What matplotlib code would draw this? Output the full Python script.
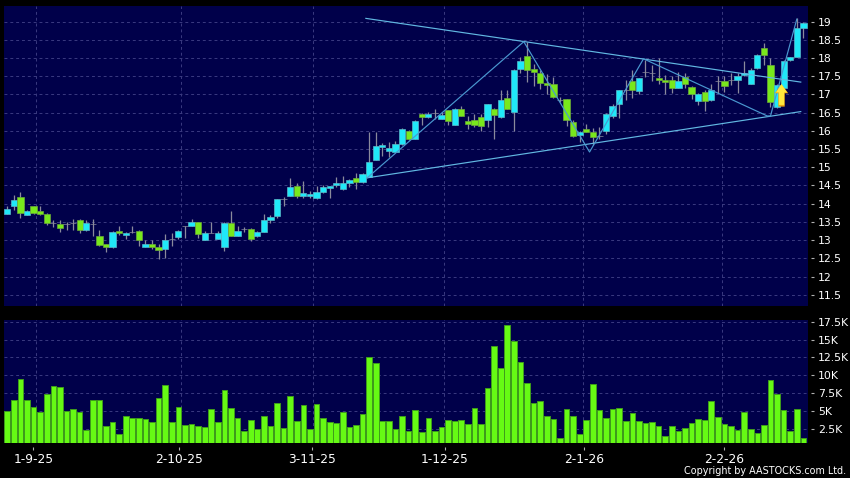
import matplotlib
matplotlib.use('Agg')
import matplotlib.pyplot as plt
from matplotlib.path import Path
import numpy as np

# daily candles, one value per session
opens = [13.72, 13.94, 14.18, 13.70, 13.94, 13.81, 13.72, 13.46, 13.44, 13.43, 13.46, 13.56, 13.28, 13.44, 13.11, 12.90,
         12.81, 13.25, 13.14, 13.22, 13.25, 12.82, 12.89, 12.81, 12.76, 13.03, 13.09, 13.39, 13.39, 13.50, 13.01, 13.20,
         13.04, 12.82, 13.47, 13.12, 13.30, 13.30, 13.12, 13.23, 13.56, 13.67, 14.13, 14.22, 14.48, 14.22, 14.20, 14.16,
         14.33, 14.42, 14.50, 14.41, 14.57, 14.70, 14.60, 14.73, 15.21, 15.56, 15.46, 15.43, 15.63, 16.00, 15.78, 16.46,
         16.39, 16.48, 16.33, 16.58, 16.17, 16.60, 16.27, 16.31, 16.38, 16.31, 16.61, 16.38, 16.90, 16.53, 17.70, 18.07,
         17.71, 17.60, 17.32, 17.28, 16.86, 16.88, 16.25, 15.88, 16.06, 15.97, 15.85, 16.00, 16.41, 16.73, 17.11, 17.37,
         17.10, 17.62, 17.59, 17.46, 17.40, 17.40, 17.19, 17.49, 17.21, 16.81, 17.07, 16.85, 17.37, 17.37, 17.40, 17.39,
         17.53, 17.30, 17.72, 18.29, 17.82, 16.65, 17.18, 17.94, 18.04, 18.82]
highs = [13.95, 14.23, 14.31, 13.84, 13.95, 13.93, 13.74, 13.56, 13.54, 13.50, 13.59, 13.57, 13.54, 13.57, 13.29, 12.90,
         13.25, 13.39, 13.22, 13.38, 13.27, 13.01, 13.01, 12.88, 13.17, 13.20, 13.28, 13.40, 13.59, 13.50, 13.24, 13.50,
         13.24, 13.50, 13.79, 13.40, 13.37, 13.34, 13.25, 13.71, 13.69, 14.14, 14.19, 14.71, 14.57, 14.61, 14.34, 14.48,
         14.52, 14.49, 14.73, 14.75, 14.68, 14.85, 14.84, 15.96, 15.96, 15.66, 15.69, 15.73, 16.09, 16.03, 16.31, 16.48,
         16.52, 16.61, 16.52, 16.58, 16.64, 16.69, 16.40, 16.45, 16.45, 16.75, 16.64, 17.13, 17.13, 17.71, 18.03, 18.44,
         17.85, 17.66, 17.57, 17.49, 16.94, 16.88, 16.29, 15.99, 16.18, 16.08, 16.11, 16.48, 16.73, 17.13, 17.40, 17.67,
         17.44, 17.95, 17.81, 18.01, 17.53, 17.51, 17.61, 17.58, 17.24, 17.03, 17.12, 17.30, 17.51, 17.51, 17.58, 17.58,
         17.92, 17.72, 18.10, 18.41, 17.99, 17.28, 17.95, 18.04, 19.09, 18.98]
lows = [13.71, 13.82, 13.61, 13.68, 13.72, 13.69, 13.41, 13.36, 13.22, 13.28, 13.29, 13.19, 13.25, 13.11, 12.84, 12.67,
        12.79, 13.13, 13.04, 13.20, 12.84, 12.81, 12.75, 12.49, 12.50, 12.85, 13.02, 13.06, 13.38, 13.06, 12.99, 13.19,
        13.02, 12.70, 13.10, 13.10, 13.21, 12.97, 13.09, 13.22, 13.47, 13.61, 13.95, 14.20, 14.15, 14.15, 14.15, 14.14,
        14.30, 14.17, 14.47, 14.38, 14.45, 14.41, 14.58, 14.72, 15.20, 15.30, 15.28, 15.41, 15.60, 15.76, 15.77, 16.15,
        16.36, 16.33, 16.32, 16.15, 16.15, 16.40, 16.05, 16.10, 15.99, 16.12, 15.77, 16.36, 16.59, 16.01, 17.59, 17.34,
        17.23, 17.15, 17.02, 16.89, 16.80, 16.14, 15.84, 15.70, 15.96, 15.61, 15.77, 15.91, 16.36, 16.36, 16.85, 16.89,
        17.00, 17.49, 17.37, 17.29, 17.00, 17.05, 17.17, 17.18, 16.87, 16.71, 16.54, 16.83, 17.03, 17.06, 17.26, 17.05,
        17.51, 17.28, 17.70, 17.81, 16.66, 16.63, 17.17, 17.92, 18.02, 18.56]
closes = [13.86, 14.11, 13.75, 13.80, 13.75, 13.72, 13.48, 13.46, 13.34, 13.43, 13.46, 13.28, 13.48, 13.44, 12.87, 12.81,
          13.22, 13.20, 13.20, 13.22, 13.00, 12.89, 12.82, 12.73, 13.00, 13.03, 13.25, 13.39, 13.50, 13.17, 13.19, 13.20,
          13.19, 13.47, 13.12, 13.25, 13.30, 13.04, 13.22, 13.56, 13.63, 14.13, 14.13, 14.45, 14.22, 14.29, 14.26, 14.33,
          14.46, 14.49, 14.56, 14.56, 14.66, 14.59, 14.81, 15.15, 15.58, 15.62, 15.54, 15.64, 16.06, 15.77, 16.28, 16.39,
          16.46, 16.48, 16.44, 16.27, 16.60, 16.42, 16.19, 16.16, 16.13, 16.74, 16.43, 16.85, 16.61, 17.68, 17.93, 17.67,
          17.62, 17.32, 17.27, 16.92, 16.86, 16.29, 15.86, 15.97, 15.98, 15.84, 15.85, 16.45, 16.69, 17.13, 17.11, 17.12,
          17.44, 17.62, 17.59, 17.41, 17.33, 17.19, 17.37, 17.28, 17.00, 17.00, 16.81, 17.12, 17.37, 17.22, 17.40, 17.51,
          17.60, 17.68, 18.09, 18.09, 16.80, 17.26, 17.93, 18.04, 18.82, 18.95]

# volume in thousands
volumes = [5.03, 6.5, 9.44, 6.5, 5.5, 4.8, 7.3, 8.45, 8.3, 4.9, 5.3, 4.85, 2.27, 6.5, 6.5, 2.8, 3.35, 1.8, 4.2, 4.05,
           4.0, 3.77, 3.35, 6.8, 8.55, 3.4, 5.55, 3.0, 3.1, 2.9, 2.75, 5.27, 3.35, 7.85, 5.45, 4.0, 2.2, 3.67, 2.4, 4.3,
           2.9, 6.1, 2.6, 7.1, 3.6, 5.8, 2.5, 6.0, 3.95, 3.45, 3.3, 4.8, 2.75, 3.05, 4.5, 12.5, 11.65, 3.6, 3.5, 2.45,
           4.25, 2.15, 5.05, 2.05, 3.95, 2.15, 2.75, 3.65, 3.5, 3.75, 3.2, 5.4, 3.1, 8.15, 14.1, 11.0, 17.0, 14.8, 11.8,
           8.9, 6.15, 6.3, 4.3, 3.85, 1.15, 5.3, 4.3, 1.8, 3.7, 8.75, 5.1, 3.95, 5.2, 5.45, 3.6, 4.75, 3.5, 3.25, 3.35,
           2.8, 1.45, 2.85, 2.2, 2.55, 3.25, 3.9, 3.7, 6.35, 4.1, 3.1, 2.8, 2.25, 4.8, 2.45, 1.9, 3.05, 9.3, 7.4, 5.1,
           2.1, 5.25, 1.15]

# drawn lines, as session number / price
upper_x = [54.5, 120.6]
upper_y = [19.09, 17.34]
lower_x = [54.7, 120.6]
lower_y = [14.71, 16.53]
zigzag_x = [54.7, 78.5, 88.5, 96.7, 115.5, 116.0, 120.0]
zigzag_y = [14.71, 18.45, 15.42, 17.98, 16.41, 16.41, 19.07]

signal_x = [117.6]
signal_y = [16.99]

date_labels = ['1-9-25', '2-10-25', '3-11-25', '1-12-25', '2-1-26', '2-2-26']
date_ticks = [3.95, 26.14, 46.35, 66.5, 87.65, 108.9]
date_grid = [4.41, 26.44, 46.5, 66.4, 87.5, 108.6]

price_ticks = [11.5, 12, 12.5, 13, 13.5, 14, 14.5, 15, 15.5, 16, 16.5, 17, 17.5, 18, 18.5, 19]
price_labels = ['11.5', '12', '12.5', '13', '13.5', '14', '14.5', '15', '15.5', '16', '16.5', '17', '17.5', '18',
                '18.5', '19']
vol_ticks = [2.5, 5, 7.5, 10, 12.5, 15, 17.5]
vol_labels = ['2.5K', '5K', '7.5K', '10K', '12.5K', '15K', '17.5K']

NAVY = '#00004a'
CYAN = '#20e8f8'
GREEN = '#78e81c'
GREY = '#8a8a9c'
GRID = '#3a3a80'
W, H = 850, 478

fig = plt.figure(figsize=(W / 100, H / 100), dpi=100, facecolor='black')
ax = fig.add_axes([4 / W, (H - 306) / H, 804 / W, 300 / H], facecolor=NAVY)
ax_vol = fig.add_axes([4 / W, (H - 443) / H, 804 / W, 123 / H], facecolor=NAVY)

x = np.arange(len(closes))
o = np.array(opens)
c = np.array(closes)

for a in (ax, ax_vol):
    a.set_xlim(-0.5, 121.7)
    a.vlines(date_grid, 0, 1, transform=a.get_xaxis_transform(), color=GRID, lw=0.7, ls=(0, (3, 3)), zorder=1)
    a.grid(axis='y', color=GRID, lw=0.7, ls=(0, (3, 3)))
    a.set_axisbelow(True)
    a.yaxis.tick_right()
    for s in a.spines.values():
        s.set_visible(False)
    a.spines['right'].set_position(('outward', 2))
    a.tick_params(axis='y', colors='#b0b0b0', labelcolor='white', length=2, width=0.8, pad=3, labelsize=7.8)

# candles
ax.vlines(x, lows, highs, color=GREY, lw=0.9, zorder=2)
colors = [CYAN if cc > oo else GREEN if cc < oo else GREY for oo, cc in zip(o, c)]
edges = ['#5ab8c8' if cc > oo else '#6ca83a' if cc < oo else GREY for oo, cc in zip(o, c)]
ax.bar(x, c - o, bottom=o, width=0.95, color=colors, edgecolor=edges, lw=0.5, zorder=3)

ax.plot(upper_x, upper_y, color='#62b8e2', lw=0.85, zorder=4)
ax.plot(lower_x, lower_y, color='#62b8e2', lw=0.85, zorder=4)
ax.plot(zigzag_x, zigzag_y, color='#4a98d0', lw=0.85, zorder=4)

# up arrow
arrow = Path([(0, 1), (0.61, 0.2), (0.29, 0.2), (0.29, -1), (-0.29, -1), (-0.29, 0.2), (-0.61, 0.2), (0, 1)])
ax.plot(signal_x, signal_y, marker=arrow, ms=16, mfc='#eca412', mec='none', ls='none', zorder=5)
ax.plot(signal_x, [s + 0.03 for s in signal_y], marker=Path(arrow.vertices * [0.88, 1]), ms=15, mfc='#ffe83c',
        mec='none', ls='none', zorder=6)

ax.set_ylim(11.19, 19.43)
ax.set_yticks(price_ticks)
ax.set_yticklabels(price_labels)
ax.set_xticks([])

# volume
ax_vol.bar(x, volumes, width=0.86, color='#66fa14', edgecolor='#3f9c1c', lw=0.7, zorder=3)
ax_vol.set_ylim(0.47, 17.74)
ax_vol.set_yticks(vol_ticks)
ax_vol.set_yticklabels(vol_labels)
ax_vol.spines['bottom'].set_position(('outward', 3))
ax_vol.set_xticks(date_ticks)
ax_vol.set_xticklabels(date_labels)
ax_vol.tick_params(axis='x', colors='#b0b0b0', labelcolor='white', length=2, width=0.8, pad=2, labelsize=8.8)

fig.text(846 / W, (H - 471) / H, 'Copyright by AASTOCKS.com Ltd.', color='white', fontsize=6.9, ha='right', va='center')

fig.savefig('out.png', dpi=100, facecolor='black')
